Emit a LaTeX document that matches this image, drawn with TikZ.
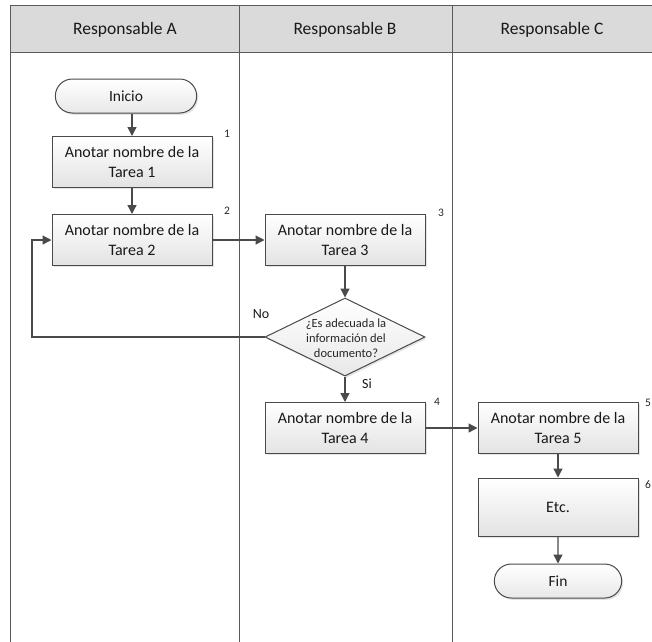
\documentclass[tikz,border=0pt]{standalone}
\usepackage{fontspec}
\setmainfont{Carlito}
\usetikzlibrary{shapes.geometric,shapes.misc,arrows.meta,shadows}
\definecolor{edgecol}{HTML}{4A4A4A}
\definecolor{lanecol}{HTML}{5A5A5A}
\definecolor{headcol}{HTML}{DADADA}
\tikzset{
  x=1pt, y=-1pt,
  taskbox/.style={rectangle, draw=edgecol, line width=1pt, top color=white, bottom color=black!11,
    minimum width=160pt, minimum height=51pt, align=center, inner sep=2pt,
    font=\fontsize{16}{20.5}\selectfont, text=black!90,
    drop shadow={opacity=0.22, shadow xshift=1.5pt, shadow yshift=-1.8pt}},
  termbox/.style={rounded rectangle, draw=edgecol, line width=1pt, top color=white, bottom color=black!9,
    minimum height=34pt, font=\fontsize{15.5}{19.5}\selectfont, text=black!90,
    drop shadow={opacity=0.22, shadow xshift=1.5pt, shadow yshift=-1.8pt}},
  decbox/.style={diamond, draw=edgecol, line width=1pt, top color=white, bottom color=black!9,
    minimum width=160pt, minimum height=78pt, inner sep=0pt,
    drop shadow={opacity=0.22, shadow xshift=1.5pt, shadow yshift=-1.8pt}},
  flow/.style={draw=edgecol, line width=1.3pt, -{Triangle[length=9pt,width=9pt]}},
  lane/.style={draw=lanecol, line width=1pt},
  headtxt/.style={font=\fontsize{17.5}{20}\selectfont, text=black!90},
  numtxt/.style={font=\fontsize{11.5}{13}\selectfont, text=black!85},
  smalltxt/.style={font=\fontsize{12.5}{15}\selectfont, text=black!85, align=center},
  lbltxt/.style={font=\fontsize{14}{16}\selectfont, text=black!90}
}
\begin{document}
\begin{tikzpicture}
\useasboundingbox (0,0) rectangle (652,641);
% header and lanes
\fill[headcol] (10,5) rectangle (660,52);
\draw[lane] (10,5) -- (660,5);
\draw[lane] (10,52) -- (660,52);
\draw[lane] (10,5) -- (10,645);
\draw[lane] (239,5) -- (239,645);
\draw[lane] (452,5) -- (452,645);
\node[headtxt] (hA) at (125,30) {Responsable A};
\node[headtxt] (hB) at (345,30) {Responsable B};
\node[headtxt] (hC) at (552,30) {Responsable C};
% nodes
\node[termbox, minimum width=148pt] (ini) at (126,96) {Inicio};
\node[taskbox] (t1) at (132,162) {Anotar nombre de la\\Tarea 1};
\node[taskbox] (t2) at (132,240) {Anotar nombre de la\\Tarea 2};
\node[taskbox] (t3) at (345,240) {Anotar nombre de la\\Tarea 3};
\node[decbox] (dec) at (345,337) {};
\node[smalltxt] (dectxt) at (346,338) {¿Es adecuada la\\información del\\documento?};
\node[taskbox] (t4) at (345,428) {Anotar nombre de la\\Tarea 4};
\node[taskbox] (t5) at (558,428) {Anotar nombre de la\\Tarea 5};
\node[taskbox, minimum height=58pt] (etc) at (558,507) {Etc.};
\node[termbox, minimum width=134pt] (fin) at (558,581) {Fin};
% numbers
\node[numtxt] (n1) at (227,134) {1};
\node[numtxt] (n2) at (227,211) {2};
\node[numtxt] (n3) at (441,213) {3};
\node[numtxt] (n4) at (437,402) {4};
\node[numtxt] (n5) at (648,403) {5};
\node[numtxt] (n6) at (648,485) {6};
\node[lbltxt] (no) at (261,314) {No};
\node[lbltxt] (si) at (367,384) {Si};
% connectors
\coordinate (loop) at (32,337);
\draw[flow] (t1.north |- ini.south) -- (t1.north);
\draw[flow] (t1) -- (t2);
\draw[flow] (t2) -- (t3);
\draw[flow] (t3) -- (dec);
\draw[flow] (dec.west) -- (loop) |- (t2.west);
\draw[flow] (dec) -- (t4);
\draw[flow] (t4) -- (t5);
\draw[flow] (t5) -- (etc);
\draw[flow] (etc) -- (fin);
\end{tikzpicture}
\end{document}
